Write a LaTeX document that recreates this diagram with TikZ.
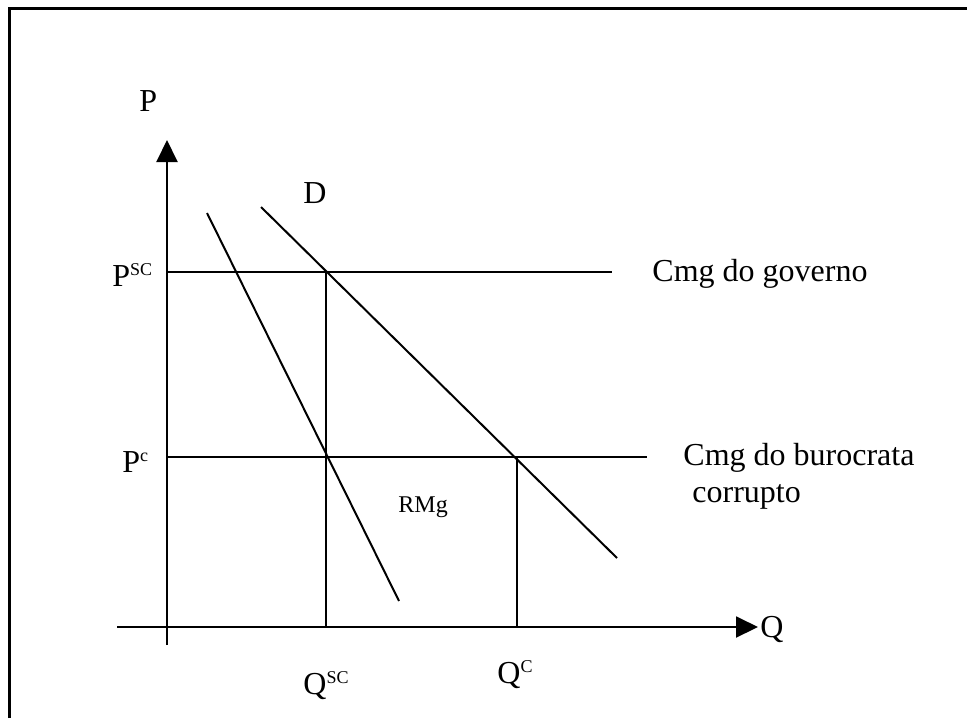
\documentclass[tikz,border=0pt]{standalone}
\usepackage{fontspec}
\setmainfont{Liberation Serif}
\usetikzlibrary{arrows.meta}
\newcommand{\supx}[1]{\raisebox{5.5pt}{\fontsize{9}{10}\selectfont #1}}

\begin{document}
\begin{tikzpicture}[
  x=0.5pt, y=-0.5pt,
  font=\fontsize{16}{19}\selectfont,
  frame/.style={line width=1.5pt},
  axis/.style={line width=1pt, -{Triangle[length=11pt,width=10.5pt]}},
  curve/.style={line width=1pt},
  lbl/.style={inner sep=0pt, anchor=base west},
  small/.style={font=\fontsize{12}{14}\selectfont}]
\useasboundingbox (0,0) rectangle (967,718);
% --- frame ---
\draw[frame] (9,718) -- (9,8) -- (967,8);
% --- axes ---
\coordinate (ybot) at (167,645);
\coordinate (ytop) at (167,140);
\coordinate (xleft) at (117,627);
\coordinate (xright) at (758,627);
\draw[axis] (ybot) -- (ytop);
\draw[axis] (xleft) -- (xright);
\node[lbl] (plab) at (139,111) {P};
\node[lbl] (qlab) at (760,637) {Q};
% --- cost lines ---
\coordinate (psc) at (167,272);
\coordinate (gend) at (612,272);
\coordinate (pc) at (167,457);
\coordinate (bend) at (647,457);
\draw[curve] (psc) -- (gend);
\draw[curve] (pc) -- (bend);
\node[lbl] (psclab) at (112,286) {P\supx{SC}};
\node[lbl] (pclab) at (122,472) {P\supx{c}};
\node[lbl] (cmgg) at (652,281) {Cmg do governo};
\node[lbl] (cmgb) at (683,465) {Cmg do burocrata};
\node[lbl] (cmgb2) at (692,502) {corrupto};
% --- demand and marginal revenue ---
\coordinate (dtop) at (261,207);
\coordinate (dbot) at (617,558);
\coordinate (rtop) at (207,213);
\coordinate (rbot) at (399,601);
\draw[curve] (dtop) -- (dbot);
\draw[curve] (rtop) -- (rbot);
\node[lbl] (dlab) at (303,203) {D};
\node[lbl, small] (rlab) at (398,512) {RMg};
% --- quantities ---
\coordinate (qsctop) at (326,272);
\coordinate (qscbot) at (326,627);
\coordinate (qctop) at (517,457);
\coordinate (qcbot) at (517,627);
\draw[curve] (qsctop) -- (qscbot);
\draw[curve] (qctop) -- (qcbot);
\node[lbl] (qsclab) at (303,694) {Q\supx{SC}};
\node[lbl] (qclab) at (497,683) {Q\supx{C}};
\end{tikzpicture}
\end{document}
